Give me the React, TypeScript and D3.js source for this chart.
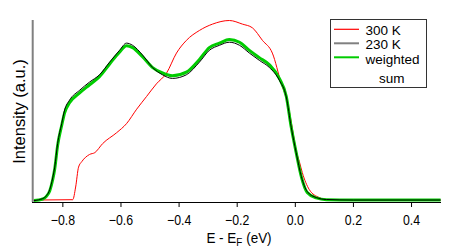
import React from "react";
import * as d3 from "d3";

// energy grid (eV) for the 230 K and weighted-sum curves
const energy = [-0.9, -0.869, -0.856, -0.845, -0.835, -0.828, -0.818, -0.804, -0.794, -0.777, -0.742, -0.708, -0.674, -0.639, -0.605, -0.581, -0.56, -0.526, -0.491, -0.457, -0.423, -0.375, -0.33, -0.296, -0.261, -0.227, -0.192, -0.158, -0.124, -0.089, -0.055, -0.031, -0.014, 0.003, 0.021, 0.041, 0.072, 0.107, 0.2, 0.5];
const k230 = [0.005, 0.016, 0.033, 0.066, 0.13, 0.19, 0.32, 0.43, 0.505, 0.56, 0.615, 0.66, 0.7, 0.77, 0.835, 0.875, 0.863, 0.81, 0.74, 0.7, 0.68, 0.7, 0.77, 0.835, 0.863, 0.88, 0.863, 0.82, 0.78, 0.74, 0.67, 0.577, 0.41, 0.27, 0.137, 0.055, 0.022, 0.011, 0.008, 0.008];
const weighted = [0.005, 0.014, 0.03, 0.06, 0.12, 0.18, 0.31, 0.42, 0.49, 0.545, 0.6, 0.645, 0.69, 0.76, 0.825, 0.86, 0.85, 0.8, 0.74, 0.71, 0.695, 0.715, 0.785, 0.85, 0.875, 0.895, 0.88, 0.835, 0.795, 0.755, 0.68, 0.58, 0.41, 0.27, 0.135, 0.05, 0.02, 0.01, 0.008, 0.008];

// 300 K curve has its own grid
const energy300 = [-0.9, -0.766, -0.756, -0.746, -0.735, -0.708, -0.69, -0.663, -0.615, -0.581, -0.546, -0.512, -0.478, -0.443, -0.409, -0.375, -0.33, -0.285, -0.227, -0.182, -0.148, -0.113, -0.079, -0.048, -0.027, -0.01, 0.003, 0.014, 0.024, 0.048, 0.082, 0.107, 0.2, 0.5];
const k300 = [0.008, 0.01, 0.08, 0.19, 0.22, 0.26, 0.27, 0.32, 0.38, 0.43, 0.51, 0.58, 0.65, 0.71, 0.82, 0.89, 0.945, 0.98, 1.0, 0.98, 0.96, 0.89, 0.82, 0.65, 0.55, 0.4, 0.28, 0.22, 0.16, 0.066, 0.022, 0.011, 0.008, 0.008];

const xTicks = [-0.8, -0.6, -0.4, -0.2, 0.0, 0.2, 0.4];
const legendLabels = ["300 K", "230 K", "weighted"];
const legendColors = ["#ff0000", "#808080", "#00cc00"];

const W = 463;
const H = 250;
const font = "Arial, 'Liberation Sans', sans-serif";

export default function App() {
  const x = d3.scaleLinear().domain([-0.9, 0.5]).range([33.8, 440.6]);
  const y = d3.scaleLinear().domain([0, 1]).range([201.5, 20.5]);

  const line = d3
    .line<[number, number]>()
    .x((d) => x(d[0]))
    .y((d) => y(d[1]))
    .curve(d3.curveMonotoneX);

  const red = line(energy300.map((e, i) => [e, k300[i]]) as [number, number][]);
  const black = line(energy.map((e, i) => [e, k230[i]]) as [number, number][]);
  const green = line(energy.map((e, i) => [e, weighted[i]]) as [number, number][]);

  return (
    <svg width={W} height={H} style={{ position: "absolute", left: 0, top: 0 }}>
      <rect width={W} height={H} fill="#fff" />
      {/* curves */}
      <path d={red ?? ""} fill="none" stroke="#ff0000" strokeWidth={1} />
      <path d={green ?? ""} fill="none" stroke="#00cc00" strokeWidth={3} />
      <path d={black ?? ""} fill="none" stroke="#000" strokeWidth={1} />

      {/* axes */}
      <line x1={32.7} x2={32.7} y1={20} y2={202} stroke="#808080" strokeWidth={2} />
      <line x1={32} x2={441} y1={202.5} y2={202.5} stroke="#000" strokeWidth={1} />
      {xTicks.map((t) => (
        <g key={t}>
          <line x1={x(t)} x2={x(t)} y1={202.5} y2={207} stroke="#000" strokeWidth={1} />
          <text
            transform={`translate(${x(t)},225) scale(0.88,1)`}
            textAnchor="middle"
            fontFamily={font}
            fontSize={14}
            fill="#000"
          >
            {d3.format(".1f")(t)}
          </text>
        </g>
      ))}
      <text
        transform="translate(239,243) scale(0.9,1)"
        textAnchor="middle"
        fontFamily={font}
        fontSize={15}
        fill="#000"
      >
        E - E<tspan fontSize={11} dy={3}>F</tspan>
        <tspan dy={-3}> (eV)</tspan>
      </text>
      <text
        transform="translate(24.5,111.5) rotate(-90)"
        textAnchor="middle"
        fontFamily={font}
        fontSize={16.5}
        fill="#000"
      >
        Intensity (a.u.)
      </text>

      {/* legend */}
      <rect x={330.5} y={19.5} width={96} height={68} fill="#fff" stroke="#333" strokeWidth={1} />
      {legendLabels.map((label, i) => (
        <g key={label}>
          <line
            x1={334}
            x2={359}
            y1={29.3 + i * 14}
            y2={29.3 + i * 14}
            stroke={legendColors[i]}
            strokeWidth={i === 0 ? 1.2 : 2}
          />
          <text x={365.5} y={34.8 + i * 14.5} fontFamily={font} fontSize={13.5} fill="#000">
            {label}
          </text>
        </g>
      ))}
      <text x={379} y={82.5} fontFamily={font} fontSize={13.5} fill="#000">
        sum
      </text>
    </svg>
  );
}
